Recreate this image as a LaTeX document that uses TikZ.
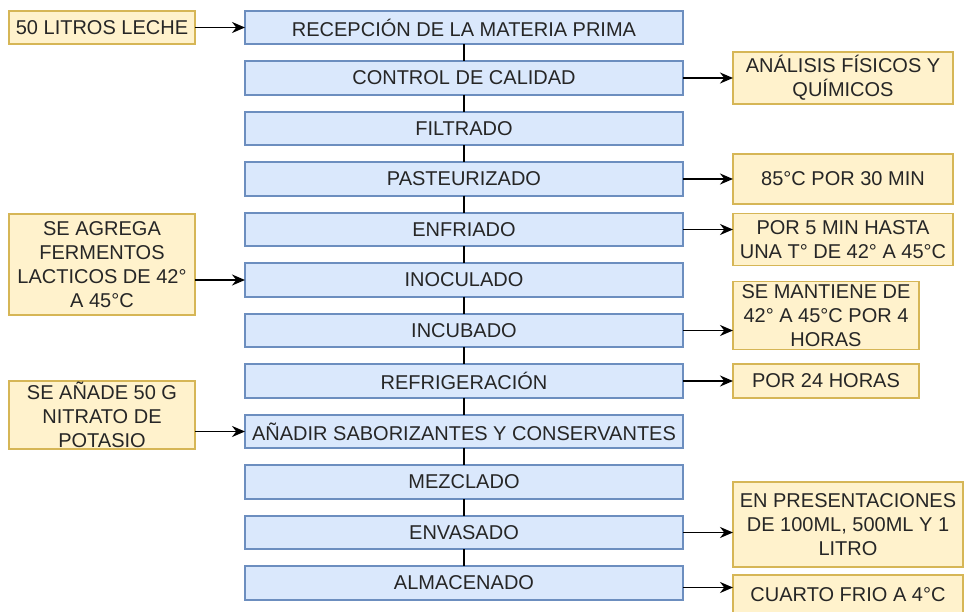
\documentclass[tikz,border=0pt]{standalone}
\usepackage{fontspec}
\setmainfont{Liberation Sans}
\usetikzlibrary{positioning, arrows.meta}

\definecolor{pasofill}{HTML}{DAE8FC}
\definecolor{pasodraw}{HTML}{6C8EBF}
\definecolor{notafill}{HTML}{FFF2CC}
\definecolor{notadraw}{HTML}{D6B656}

\begin{document}
\begin{tikzpicture}[font=\fontsize{20}{24}\selectfont, text=black!85, line width=1.6pt,
  >={Stealth[length=13pt, width=11pt]},
  paso/.style={draw=pasodraw, fill=pasofill, minimum width=438pt, minimum height=33.5pt, inner sep=0pt, outer sep=0pt},
  nota/.style={draw=notadraw, fill=notafill, inner sep=0pt, outer sep=0pt, align=center}]

\useasboundingbox (0,0) rectangle (964pt,-612pt);

% pasos del proceso
\node[paso] (recepcion) at (464pt,-27.5pt) {RECEPCIÓN DE LA MATERIA PRIMA};
\node[paso, below=17pt of recepcion] (control) {CONTROL DE CALIDAD};
\node[paso, below=17pt of control] (filtrado) {FILTRADO};
\node[paso, below=17pt of filtrado] (pasteurizado) {PASTEURIZADO};
\node[paso, below=17pt of pasteurizado] (enfriado) {ENFRIADO};
\node[paso, below=17pt of enfriado] (inoculado) {INOCULADO};
\node[paso, below=17pt of inoculado] (incubado) {INCUBADO};
\node[paso, below=17pt of incubado] (refrigeracion) {REFRIGERACIÓN};
\node[paso, below=17pt of refrigeracion] (anadir) {AÑADIR SABORIZANTES Y CONSERVANTES};
\node[paso, below=17pt of anadir] (mezclado) {MEZCLADO};
\node[paso, below=17pt of mezclado] (envasado) {ENVASADO};
\node[paso, below=17pt of envasado] (almacenado) {ALMACENADO};

% notas a la izquierda
\node[nota, minimum width=186pt, minimum height=33.5pt, left=50pt of recepcion] (leche) {50 LITROS LECHE};
\node[nota, minimum width=186pt, minimum height=101.3pt, left=50pt of inoculado, yshift=15.6pt] (fermentos) {SE AGREGA\\FERMENTOS\\LACTICOS DE 42°\\A 45°C};
\node[nota, minimum width=186pt, minimum height=68pt, left=50pt of anadir, yshift=16.5pt] (nitrato) {SE AÑADE 50 G\\NITRATO DE\\POTASIO};

% notas a la derecha
\node[nota, minimum width=220pt, minimum height=51.7pt, right=50pt of control] (analisis) {ANÁLISIS FÍSICOS Y\\QUÍMICOS};
\node[nota, minimum width=220pt, minimum height=50pt, right=50pt of pasteurizado] (temp) {85°C POR 30 MIN};
\node[nota, minimum width=220pt, minimum height=52pt, right=50pt of enfriado, yshift=-10pt] (hasta) {POR 5 MIN HASTA\\UNA T° DE 42° A 45°C};
\node[nota, minimum width=186pt, minimum height=68pt, right=50pt of incubado, yshift=15pt] (mantiene) {SE MANTIENE DE\\42° A 45°C POR 4\\HORAS};
\node[nota, minimum width=186pt, minimum height=34pt, right=50pt of refrigeracion] (horas) {POR 24 HORAS};
\node[nota, minimum width=230pt, minimum height=85pt, right=50pt of envasado, yshift=8pt] (presentaciones) {EN PRESENTACIONES\\DE 100ML, 500ML Y 1\\LITRO};
\node[nota, minimum width=230pt, minimum height=40pt, right=50pt of almacenado, yshift=-12pt] (frio) {CUARTO FRIO A 4°C};

% lineas entre pasos
\foreach \a/\b in {recepcion/control, control/filtrado, filtrado/pasteurizado, pasteurizado/enfriado,
  enfriado/inoculado, inoculado/incubado, incubado/refrigeracion, refrigeracion/anadir,
  anadir/mezclado, mezclado/envasado, envasado/almacenado}
  \draw (\a) -- (\b);

% flechas
\draw[->] (leche) -- (recepcion);
\draw[->] (fermentos.east |- inoculado) -- (inoculado.west);
\draw[->] (nitrato.east |- anadir) -- (anadir.west);
\draw[->] (control) -- (analisis);
\draw[->] (pasteurizado) -- (temp);
\draw[->] (enfriado.east) -- (enfriado.east -| hasta.west);
\draw[->] (incubado.east) -- (incubado.east -| mantiene.west);
\draw[->] (refrigeracion.east) -- (refrigeracion.east -| horas.west);
\draw[->] (envasado.east) -- (envasado.east -| presentaciones.west);
\draw[->] ([yshift=-4.5pt]almacenado.east) -- ([yshift=-4.5pt]almacenado.east -| frio.west);

\end{tikzpicture}
\end{document}
